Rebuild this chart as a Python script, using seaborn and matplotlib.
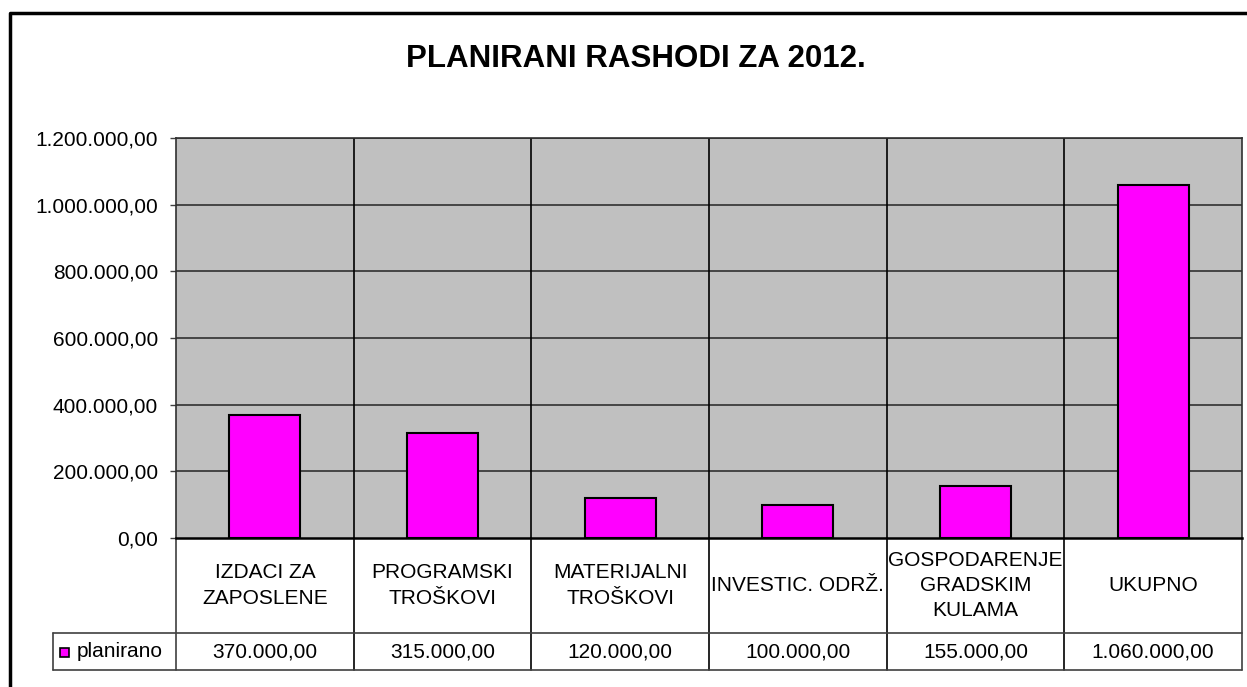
import matplotlib
matplotlib.use("Agg")
import matplotlib.pyplot as plt
import matplotlib.transforms as mtransforms
from matplotlib.lines import Line2D
from matplotlib.patches import Rectangle
import seaborn as sns
import pandas as pd

categories = ["IZDACI ZA\nZAPOSLENE", "PROGRAMSKI\nTROŠKOVI", "MATERIJALNI\nTROŠKOVI",
              "INVESTIC. ODRŽ.", "GOSPODARENJE\nGRADSKIM\nKULAMA", "UKUPNO"]
values = [370000, 315000, 120000, 100000, 155000, 1060000]
series_name = "planirano"
title = "PLANIRANI RASHODI ZA 2012."
y_ticks = [0, 200000, 400000, 600000, 800000, 1000000, 1200000]


def fmt(v):
    s = f"{v:,.2f}"
    return s.replace(",", "X").replace(".", ",").replace("X", ".")


sns.set_theme(style="white")
plt.rcParams["font.family"] = ["Liberation Sans", "DejaVu Sans"]

FS = 15
W, H = 1247, 687
fig = plt.figure(figsize=(W / 100, H / 100), dpi=100)
fig.patch.set_facecolor("white")

L, R, T, B = 176, 1242, 138, 538
ax = fig.add_axes([L / W, 1 - B / H, (R - L) / W, (B - T) / H])
ax.set_facecolor("#C0C0C0")

df = pd.DataFrame({"cat": categories, "val": values})
sns.barplot(data=df, x="cat", y="val", color="#FF00FF", edgecolor="black",
            linewidth=1.5, width=0.4, saturation=1, ax=ax, zorder=3)

ax.set_xlim(-0.5, len(categories) - 0.5)
ax.set_ylim(0, 1200000)
ax.set_yticks(y_ticks)
ax.set_yticklabels([fmt(v) for v in y_ticks], fontsize=FS, color="black")
ax.set_xticks([])
ax.set_xlabel("")
ax.set_ylabel("")
ax.tick_params(axis="y", direction="out", length=4.5, width=1, color="#404040", pad=8.5, left=True)
for yv in y_ticks[1:]:
    ax.axhline(yv, color="#303030", lw=1.2, zorder=1)
for i in range(1, len(categories)):
    ax.axvline(i - 0.5, color="black", lw=1.2, zorder=1)
for sp in ax.spines.values():
    sp.set_color("#303030")
    sp.set_linewidth(1.2)
ax.spines["bottom"].set_color("black")
ax.spines["bottom"].set_linewidth(1.8)

# Data table below
bt = mtransforms.blended_transform_factory(ax.transData, fig.transFigure)
y_top = 1 - 538 / H
y_mid = 1 - 633 / H
y_bot = 1 - 670 / H
for i in range(len(categories) + 1):
    xb = i - 0.5
    ax.add_line(Line2D([xb, xb], [y_bot, y_top], transform=bt,
                       color="black" if 0 < i < len(categories) else "#404040",
                       lw=1.2, clip_on=False))
for yy in (y_mid, y_bot):
    fig.add_artist(Line2D([53 / W, R / W], [yy, yy], color="#404040", lw=1.2))
fig.add_artist(Line2D([53 / W, 53 / W], [y_bot, y_mid], color="#404040", lw=1.2))

for i, (c, v) in enumerate(zip(categories, values)):
    fig.text(i, (y_top + y_mid) / 2, c, transform=bt, ha="center", va="center",
             fontsize=FS, linespacing=1.4, color="black")
    fig.text(i, (y_mid + y_bot) / 2, fmt(v), transform=bt, ha="center", va="center",
             fontsize=FS, color="black")

fig.add_artist(Rectangle((60 / W, 1 - 657 / H), 9 / W, 9 / H, facecolor="#FF00FF",
                         edgecolor="black", lw=1.2))
fig.text(77 / W, (y_mid + y_bot) / 2, series_name, ha="left", va="center", fontsize=FS, color="black")

fig.text(636 / W, 1 - 59 / H, title, ha="center", va="center", fontsize=22.5,
         fontweight="bold", color="black")

# chart border
fig.add_artist(Line2D([10 / W, 10 / W, 1.0], [0.0, 1 - 13 / H, 1 - 13 / H], color="black", lw=2.5))

fig.savefig("out.png", dpi=100, facecolor="white")
